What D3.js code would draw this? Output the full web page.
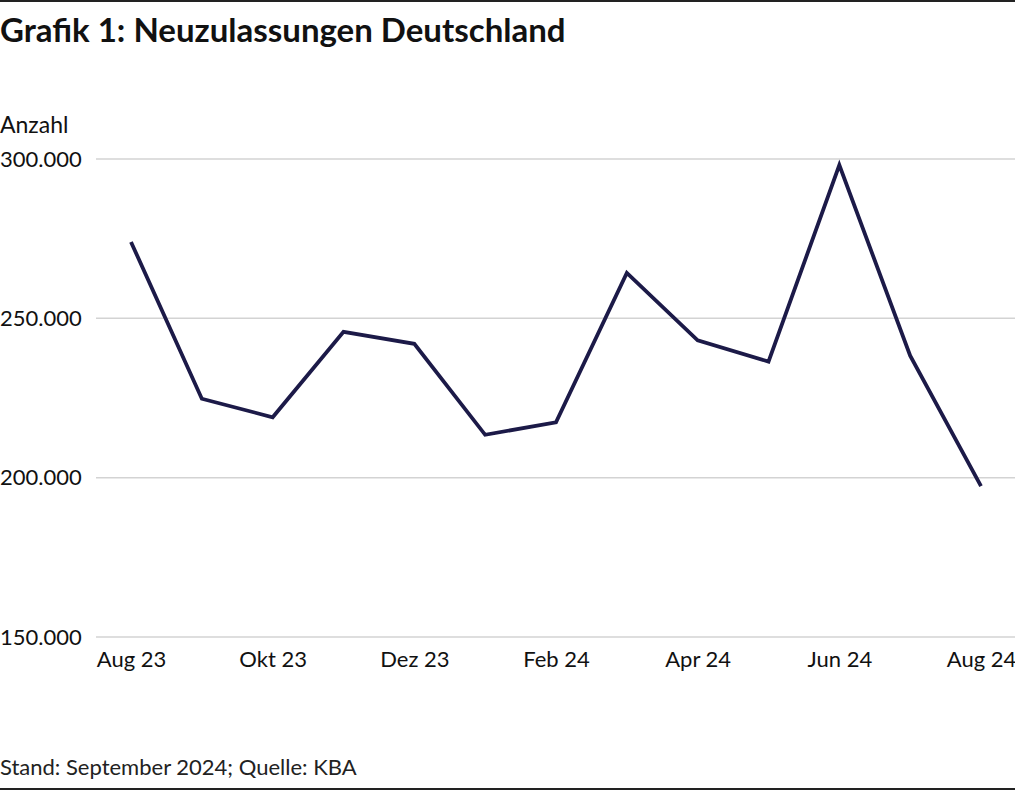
<!DOCTYPE html>
<html>
<head>
<meta charset="utf-8">
<script src="https://cdn.jsdelivr.net/npm/d3@7"></script>
<style>
  body { margin: 0; background: #fff; }
  svg { display: block; font-family: "Source Sans Pro", Lato, "Noto Sans", sans-serif; }
  .grid line { stroke: #d3d3d3; stroke-width: 1.5; }
</style>
</head>
<body>
<div class="plot"></div>
<script>
// Neuzulassungen pro Monat (KBA)
var months = ["Aug 23", "Sep 23", "Okt 23", "Nov 23", "Dez 23", "Jan 24", "Feb 24",
              "Mär 24", "Apr 24", "Mai 24", "Jun 24", "Jul 24", "Aug 24"];
var registrations = [273980, 224776, 218959, 245743, 241990, 213452, 217388,
                     264238, 243102, 236425, 298097, 238263, 197322];
var yTicks = [150000, 200000, 250000, 300000];
var xTickLabels = ["Aug 23", "Okt 23", "Dez 23", "Feb 24", "Apr 24", "Jun 24", "Aug 24"];

var W = 1015, H = 791;
var margin = {top: 159, right: 34, bottom: 154, left: 131};
var fontFam = '"Source Sans Pro", Lato, "Noto Sans", sans-serif';

var svg = d3.select(".plot")
  .append("svg")
  .attr("width", W)
  .attr("height", H);

var de = d3.formatLocale({decimal: ",", thousands: ".", grouping: [3], currency: ["", " €"]});
var fmt = de.format(",d");

var x = d3.scalePoint()
  .domain(months)
  .range([margin.left, W - margin.right]);

var y = d3.scaleLinear()
  .domain([150000, 300000])
  .range([H - margin.bottom, margin.top]);

// frame lines top and bottom
svg.append("line").attr("x1", 0).attr("x2", W).attr("y1", 1).attr("y2", 1)
  .style("stroke", "#222").style("stroke-width", 2);
svg.append("line").attr("x1", 0).attr("x2", W).attr("y1", 789).attr("y2", 789)
  .style("stroke", "#222").style("stroke-width", 2);

svg.append("text")
  .attr("x", 0).attr("y", 42)
  .style("font-size", "33px").style("font-weight", "bold").style("fill", "#111")
  .text("Grafik 1: Neuzulassungen Deutschland");

svg.append("text")
  .attr("x", 0).attr("y", 133)
  .style("font-size", "23px").style("fill", "#111")
  .text("Anzahl");

// gridlines
var grid = svg.append("g").attr("class", "grid");
grid.selectAll("line")
  .data(yTicks)
  .enter().append("line")
  .attr("x1", 96).attr("x2", W)
  .attr("y1", function(d) { return y(d); })
  .attr("y2", function(d) { return y(d); });

// y labels
svg.append("g")
  .selectAll("text")
  .data(yTicks)
  .enter().append("text")
  .attr("x", 0)
  .attr("y", function(d) { return y(d); })
  .attr("dy", "0.35em")
  .style("font-size", "22px").style("fill", "#111")
  .text(function(d) { return fmt(d); });

// x axis
var xAxis = svg.append("g")
  .attr("transform", "translate(0," + (H - margin.bottom) + ")")
  .call(d3.axisBottom(x).tickValues(xTickLabels).tickSize(0).tickPadding(14));
xAxis.attr("font-family", null).attr("font-size", null);
xAxis.select(".domain").remove();
xAxis.selectAll("text")
  .style("font-family", fontFam)
  .style("font-size", "22px").style("fill", "#111");

var line = d3.line()
  .x(function(d, i) { return x(months[i]); })
  .y(function(d) { return y(d); });

svg.append("path")
  .datum(registrations)
  .attr("d", line)
  .style("fill", "none")
  .style("stroke", "#1c1a48")
  .style("stroke-width", 3.8)
  .style("stroke-linejoin", "miter");

svg.append("text")
  .attr("x", 0).attr("y", 775)
  .style("font-size", "22px").style("fill", "#222")
  .text("Stand: September 2024; Quelle: KBA");
</script>
</body>
</html>
